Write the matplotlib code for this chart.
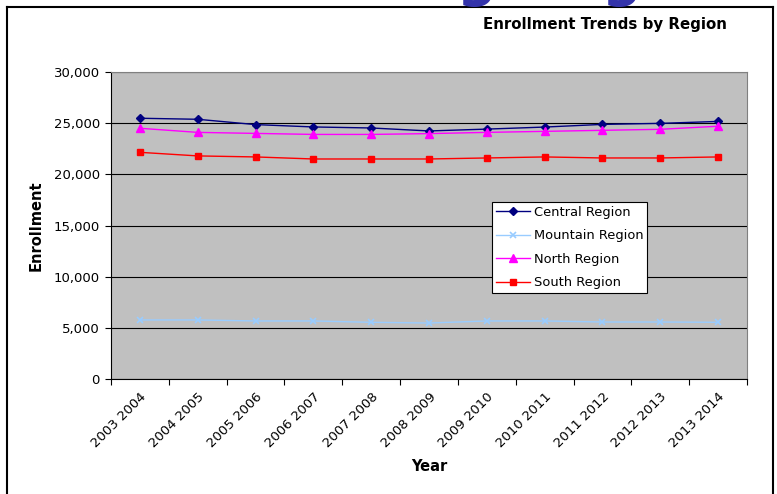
import matplotlib
matplotlib.use("Agg")
import matplotlib.pyplot as plt
from matplotlib.lines import Line2D
from matplotlib.ticker import FuncFormatter, FixedLocator

years = ["2003 2004", "2004 2005", "2005 2006", "2006 2007", "2007 2008",
         "2008 2009", "2009 2010", "2010 2011", "2011 2012", "2012 2013",
         "2013 2014"]
central = [25480, 25380, 24860, 24630, 24530, 24240, 24420, 24620, 24880, 24980, 25170]
mountain = [5770, 5770, 5670, 5670, 5540, 5470, 5670, 5670, 5570, 5570, 5540]
north = [24500, 24100, 24000, 23900, 23900, 23980, 24100, 24200, 24300, 24400, 24700]
south = [22150, 21800, 21700, 21500, 21500, 21500, 21600, 21700, 21600, 21600, 21700]

W, H = 777, 494
fig = plt.figure(figsize=(W / 100, H / 100), dpi=100)
fig.patch.set_facecolor("white")

# frame around the chart object
fig.add_artist(Line2D([7 / W, 773 / W], [1 - 7 / H, 1 - 7 / H], color="black", lw=1.5))
fig.add_artist(Line2D([7 / W, 7 / W], [1 - 7 / H, 0], color="black", lw=1.5))
fig.add_artist(Line2D([773 / W, 773 / W], [1 - 7 / H, 0], color="black", lw=1.5))

# bits of the slide title behind, cut off at the top
for gx in (476, 621):
    fig.text(gx / W, 1 + 5 / H, "g", fontsize=40, fontweight="bold",
             color="#3333AA", ha="center", va="baseline", family="DejaVu Sans")

ax = fig.add_axes([111 / W, 1 - 379 / H, (747 - 111) / W, (379 - 72) / H])
ax.set_facecolor("#C0C0C0")

x = list(range(len(years)))
ax.plot(x, central, color="#000080", marker="D", markersize=4.5, lw=1.0, label="Central Region")
ax.plot(x, mountain, color="#99CCFF", marker="x", markersize=5, mew=1.2, lw=1.0, label="Mountain Region")
ax.plot(x, north, color="#FF00FF", marker="^", markersize=6, lw=1.0, label="North Region")
ax.plot(x, south, color="#FF0000", marker="s", markersize=5, lw=1.0, label="South Region")

ax.set_xlim(-0.5, len(years) - 0.5)
ax.set_ylim(0, 30000)
ax.set_yticks(range(0, 30001, 5000))
ax.yaxis.set_major_formatter(FuncFormatter(lambda v, p: f"{int(v):,}"))
ax.grid(axis="y", color="black", lw=0.8)
ax.set_axisbelow(True)

ax.xaxis.set_major_locator(FixedLocator([i - 0.5 for i in range(len(years) + 1)]))
ax.xaxis.set_minor_locator(FixedLocator(x))
ax.set_xticklabels([""] * (len(years) + 1))
ax.set_xticklabels(years, minor=True, rotation=45, ha="right", va="top",
                   rotation_mode="anchor", fontsize=9.5, family="DejaVu Sans")
ax.tick_params(axis="x", which="minor", length=0, pad=8)
ax.tick_params(axis="x", which="major", length=4, direction="out")
ax.tick_params(axis="y", length=4, direction="out", labelsize=9.5, pad=4)
for lab in ax.get_yticklabels():
    lab.set_family("DejaVu Sans")

for s in ("top", "right"):
    ax.spines[s].set_color("#808080")
ax.spines["left"].set_color("black")
ax.spines["bottom"].set_color("black")

ax.set_ylabel("Enrollment", fontsize=10.5, fontweight="bold", family="DejaVu Sans", labelpad=7)
ax.set_xlabel("Year", fontsize=10.5, fontweight="bold", family="DejaVu Sans", labelpad=6)

fig.text(727 / W, 1 - 25 / H, "Enrollment Trends by Region", ha="right", va="center",
         fontsize=10.8, fontweight="bold", family="DejaVu Sans")

leg = ax.legend(loc="upper left", bbox_to_anchor=((492 - 111) / (747 - 111), 1 - (202 - 72) / (379 - 72)),
                fancybox=False, framealpha=1, edgecolor="black", fontsize=9.4,
                handlelength=2.6, borderpad=0.3, labelspacing=0.8, handletextpad=0.3,
                borderaxespad=0)
leg.get_frame().set_linewidth(0.8)

fig.savefig("out.png", dpi=100)
